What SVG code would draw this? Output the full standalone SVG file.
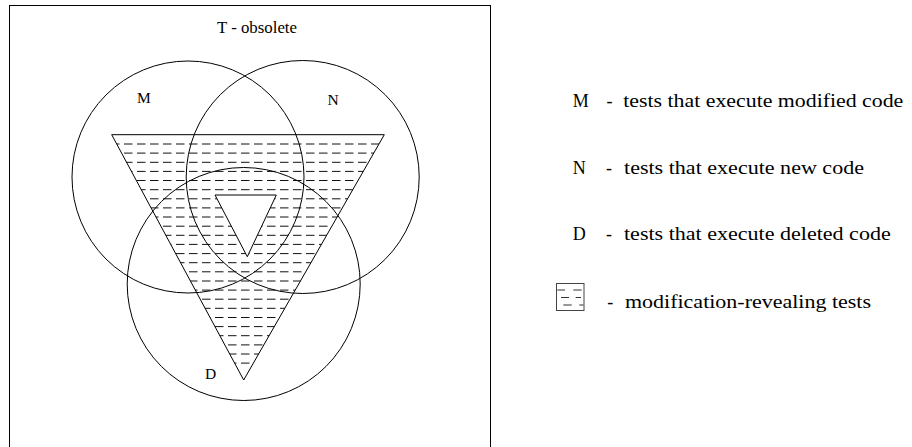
<svg xmlns="http://www.w3.org/2000/svg" width="912" height="447" viewBox="0 0 912 447">
<style>
  .ln { fill: none; stroke: #000; stroke-width: 1; }
  .lbl { font-family: "Liberation Serif", "Times New Roman", serif; fill: #000; }
  .dl { stroke: #111; stroke-width: 1; stroke-dasharray: 8.5 4.5; }
  .leg { font-size: 18px; }
</style>
<defs>
  <clipPath id="triClip">
    <polygon points="111.7,134.7 384.3,134.7 243.7,380"/>
  </clipPath>
</defs>
<rect width="912" height="447" fill="#fff"/>
<g id="frame">
  <rect x="9.5" y="5.5" width="481" height="460" class="ln" stroke-width="1.3"/>
  <text class="lbl" x="217" y="33" font-size="16" textLength="80" lengthAdjust="spacingAndGlyphs">T - obsolete</text>
</g>
<g id="modification-revealing">
  <g clip-path="url(#triClip)">
    <line class="dl" x1="111" y1="144" x2="385" y2="144"/>
    <line class="dl" x1="111" y1="153.1" x2="385" y2="153.1"/>
    <line class="dl" x1="111" y1="162.3" x2="385" y2="162.3"/>
    <line class="dl" x1="111" y1="171.4" x2="385" y2="171.4"/>
    <line class="dl" x1="111" y1="180.5" x2="385" y2="180.5"/>
    <line class="dl" x1="111" y1="189.7" x2="385" y2="189.7"/>
    <line class="dl" x1="111" y1="198.8" x2="385" y2="198.8"/>
    <line class="dl" x1="111" y1="207.9" x2="385" y2="207.9"/>
    <line class="dl" x1="111" y1="217" x2="385" y2="217"/>
    <line class="dl" x1="111" y1="226.2" x2="385" y2="226.2"/>
    <line class="dl" x1="111" y1="235.3" x2="385" y2="235.3"/>
    <line class="dl" x1="111" y1="244.4" x2="385" y2="244.4"/>
    <line class="dl" x1="111" y1="253.6" x2="385" y2="253.6"/>
    <line class="dl" x1="111" y1="262.7" x2="385" y2="262.7"/>
    <line class="dl" x1="111" y1="271.8" x2="385" y2="271.8"/>
    <line class="dl" x1="111" y1="281" x2="385" y2="281"/>
    <line class="dl" x1="111" y1="290.1" x2="385" y2="290.1"/>
    <line class="dl" x1="111" y1="299.2" x2="385" y2="299.2"/>
    <line class="dl" x1="111" y1="308.3" x2="385" y2="308.3"/>
    <line class="dl" x1="111" y1="317.5" x2="385" y2="317.5"/>
    <line class="dl" x1="111" y1="326.6" x2="385" y2="326.6"/>
    <line class="dl" x1="111" y1="335.7" x2="385" y2="335.7"/>
    <line class="dl" x1="111" y1="344.9" x2="385" y2="344.9"/>
    <line class="dl" x1="111" y1="354" x2="385" y2="354"/>
    <line class="dl" x1="111" y1="363.1" x2="385" y2="363.1"/>
  </g>
  <polygon class="ln" points="111.7,134.7 384.3,134.7 243.7,380"/>
  <polygon points="215,195 276.3,195 247.3,256.7" fill="#fff" stroke="#000" stroke-width="1"/>
</g>
<g id="set-M">
  <circle class="ln" cx="188" cy="177" r="116"/>
  <text class="lbl" x="137" y="103.3" font-size="15.5">M</text>
</g>
<g id="set-N">
  <circle class="ln" cx="302.7" cy="177" r="116.5"/>
  <text class="lbl" x="327.5" y="105" font-size="15.5">N</text>
</g>
<g id="set-D">
  <circle class="ln" cx="243.7" cy="284" r="116.5"/>
  <text class="lbl" x="205" y="379" font-size="15.5">D</text>
</g>
<g id="legend-M" class="lbl leg">
  <text x="572.7" y="106.5">M</text>
  <text x="606.5" y="106.5">-</text>
  <text x="623.3" y="106.5" textLength="280" lengthAdjust="spacingAndGlyphs">tests that execute modified code</text>
</g>
<g id="legend-N" class="lbl leg">
  <text x="572.7" y="174">N</text>
  <text x="606" y="174">-</text>
  <text x="624" y="174" textLength="240" lengthAdjust="spacingAndGlyphs">tests that execute new code</text>
</g>
<g id="legend-D" class="lbl leg">
  <text x="572.7" y="240">D</text>
  <text x="606" y="240">-</text>
  <text x="624" y="240" textLength="266.7" lengthAdjust="spacingAndGlyphs">tests that execute deleted code</text>
</g>
<g id="legend-revealing">
  <rect x="556.5" y="283.5" width="27.5" height="27" fill="none" stroke="#444" stroke-width="1"/>
  <g stroke="#333" stroke-width="1">
    <line x1="557.3" y1="290" x2="565" y2="290"/>
    <line x1="573.3" y1="290" x2="581.7" y2="290"/>
    <line x1="561" y1="297.5" x2="569" y2="297.5"/>
    <line x1="575.7" y1="297.5" x2="581" y2="297.5"/>
    <line x1="563.3" y1="305" x2="571.7" y2="305"/>
    <line x1="579.3" y1="305" x2="583.5" y2="305"/>
  </g>
  <text class="lbl leg" x="607.3" y="308">-</text>
  <text class="lbl leg" x="625" y="308" textLength="246" lengthAdjust="spacingAndGlyphs">modification-revealing tests</text>
</g>
</svg>
